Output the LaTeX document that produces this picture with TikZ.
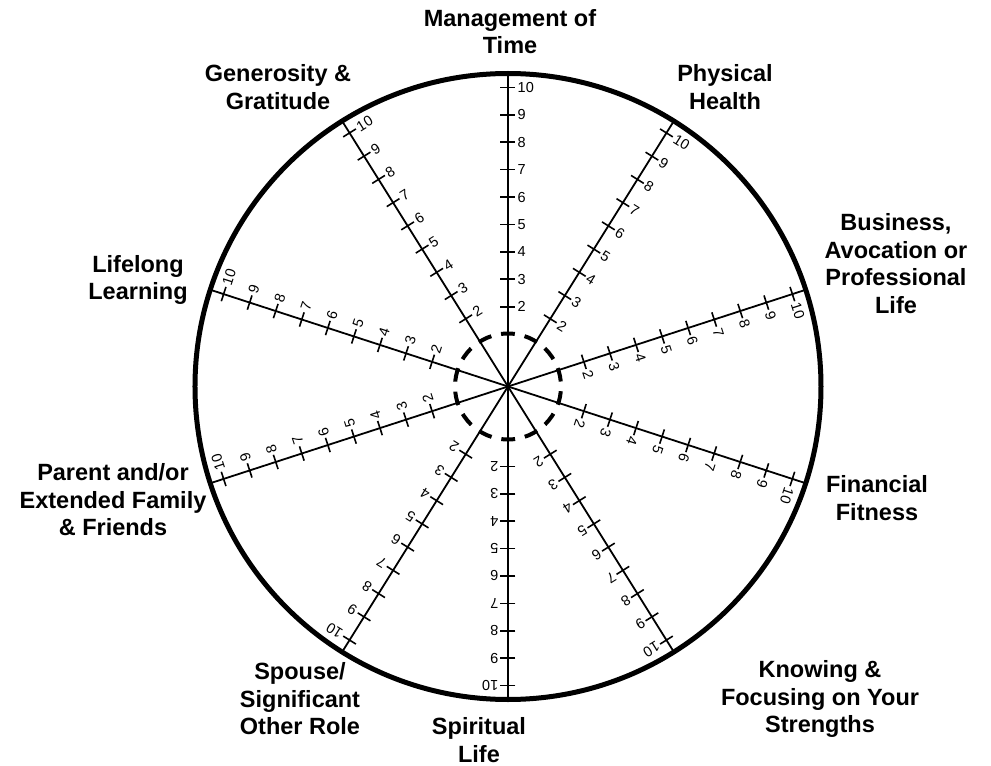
\documentclass[tikz,border=0pt]{standalone}
\usepackage{fontspec}
\setmainfont{Liberation Sans}
\begin{document}
\begin{tikzpicture}[x=1pt,y=1pt,
  rim/.style={line width=5pt},
  spoke/.style={line width=1.8pt},
  tickmark/.style={line width=1.6pt},
  innerring/.style={line width=4pt,dash pattern=on 13.8pt off 10pt,dash phase=18.8pt},
  ticklabel/.style={anchor=west,inner sep=0pt,font=\fontsize{14.5}{16}\selectfont},
  area/.style={align=center,inner sep=0pt,font=\fontsize{23.5}{27.5}\selectfont\bfseries}]
\useasboundingbox (-508,-379.5) rectangle (483,386.5);
\coordinate (c) at (0,0);
\draw[rim] (c) circle[radius=313];
\draw[innerring] (c) circle[radius=53];
\foreach \ang [count=\i] in {90,58,18,-18,-58,-90,-122,-162,162,122}{
  \begin{scope}[rotate=\ang-90,transform shape]
    \coordinate (end\i) at (0,313);
    \draw[spoke] (c) -- (end\i);
    \foreach \k in {2,...,10}{
      \pgfmathsetmacro{\rr}{25+27.4*\k}
      \coordinate (ta\i-\k) at (-7.5,\rr);
      \coordinate (tb\i-\k) at (7.5,\rr);
      \draw[tickmark] (ta\i-\k) -- (tb\i-\k);
      \node[ticklabel] (n\i-\k) at (9.5,\rr) {\k};
    }
  \end{scope}
}
\node[area] (time) at (2,355) {Management of\\Time};
\node[area] (gen) at (-230,299.5) {Generosity \&\\Gratitude};
\node[area] (phys) at (217,299.5) {Physical\\Health};
\node[area] (bus) at (388,123) {Business,\\Avocation or\\Professional\\Life};
\node[area] (learn) at (-370,106.5) {Lifelong\\Learning};
\node[area] (fam) at (-395,-113.5) {Parent and/or\\Extended Family\\\& Friends};
\node[area] (fin) at (369,-111.5) {Financial\\Fitness};
\node[area] (spouse) at (-208,-312.5) {Spouse/\\Significant\\Other Role};
\node[area] (spirit) at (-29,-353.5) {Spiritual\\Life};
\node[area] (know) at (312,-312.5) {Knowing \&\\Focusing on Your\\Strengths};
\end{tikzpicture}
\end{document}
